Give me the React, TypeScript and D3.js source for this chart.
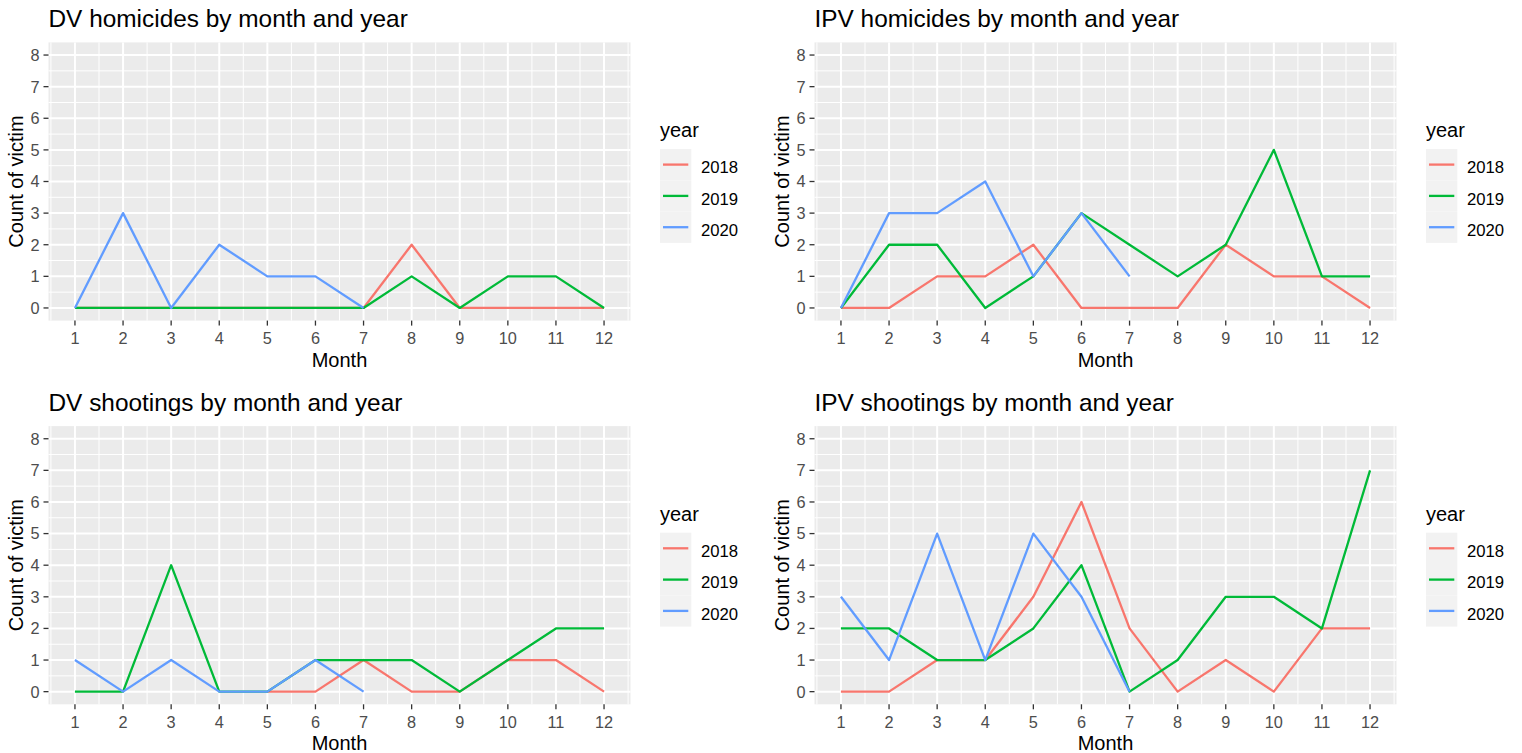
import React from "react";
import * as d3 from "d3";

// ---------- data ----------
const months = [1, 2, 3, 4, 5, 6, 7, 8, 9, 10, 11, 12];
const yTicks = [0, 1, 2, 3, 4, 5, 6, 7, 8];
const years = ["2018", "2019", "2020"];
const yearColors = ["#F8766D", "#00BA38", "#619CFF"];

type V = number | null;

const dvHom2018: V[] = [0, 0, 0, 0, 0, 0, 0, 2, 0, 0, 0, 0];
const dvHom2019: V[] = [0, 0, 0, 0, 0, 0, 0, 1, 0, 1, 1, 0];
const dvHom2020: V[] = [0, 3, 0, 2, 1, 1, 0, null, null, null, null, null];

const ipvHom2018: V[] = [0, 0, 1, 1, 2, 0, 0, 0, 2, 1, 1, 0];
const ipvHom2019: V[] = [0, 2, 2, 0, 1, 3, 2, 1, 2, 5, 1, 1];
const ipvHom2020: V[] = [0, 3, 3, 4, 1, 3, 1, null, null, null, null, null];

const dvShoot2018: V[] = [null, null, null, null, 0, 0, 1, 0, 0, 1, 1, 0];
const dvShoot2019: V[] = [0, 0, 4, 0, 0, 1, 1, 1, 0, 1, 2, 2];
const dvShoot2020: V[] = [1, 0, 1, 0, 0, 1, 0, null, null, null, null, null];

const ipvShoot2018: V[] = [0, 0, 1, 1, 3, 6, 2, 0, 1, 0, 2, 2];
const ipvShoot2019: V[] = [2, 2, 1, 1, 2, 4, 0, 1, 3, 3, 2, 7];
const ipvShoot2020: V[] = [3, 1, 5, 1, 5, 3, 0, null, null, null, null, null];

const titles = [
  "DV homicides by month and year",
  "IPV homicides by month and year",
  "DV shootings by month and year",
  "IPV shootings by month and year",
];
const panelSeries: V[][][] = [
  [dvHom2018, dvHom2019, dvHom2020],
  [ipvHom2018, ipvHom2019, ipvHom2020],
  [dvShoot2018, dvShoot2019, dvShoot2020],
  [ipvShoot2018, ipvShoot2019, ipvShoot2020],
];
const xLabel = "Month";
const yLabel = "Count of victim";
const legendTitle = "year";

// ---------- layout ----------
const FONT = "'Liberation Sans', Arial, Helvetica, sans-serif";
const COL_OFF = [0, 766];
const ROW_OFF = [0, 383.7];
const P_LEFT = 48.5;
const P_RIGHT = 630.5;
const P_TOP = 42.4;
const P_BOTTOM = 320.6;

function Panel({ idx }: { idx: number }) {
  const ox = COL_OFF[idx % 2];
  const oy = ROW_OFF[Math.floor(idx / 2)];
  const x = d3.scaleLinear().domain([0.45, 12.55]).range([P_LEFT + ox, P_RIGHT + ox]);
  const y = d3.scaleLinear().domain([-0.4, 8.4]).range([P_BOTTOM + oy, P_TOP + oy]);
  const xMinor = d3.range(0.5, 13, 1).filter((v) => v > 0.45 && v < 12.55);
  const yMinor = d3.range(0.5, 8, 1);
  const line = d3
    .line<{ m: number; v: V }>()
    .defined((d) => d.v != null)
    .x((d) => x(d.m))
    .y((d) => y(d.v as number));
  const [x0, x1] = x.range();
  const [y0, y1] = y.range();
  const cy = (y0 + y1) / 2;
  const lx = 660 + ox;
  return (
    <g>
      <text x={P_LEFT + ox} y={27 + oy} fontSize={24.4} fill="#000" fontFamily={FONT}>
        {titles[idx]}
      </text>
      <rect x={x0} y={y1} width={x1 - x0} height={y0 - y1} fill="#EBEBEB" />
      {yMinor.map((v) => (
        <line key={"ym" + v} x1={x0} x2={x1} y1={y(v)} y2={y(v)} stroke="#fff" strokeWidth={1} />
      ))}
      {xMinor.map((v) => (
        <line key={"xm" + v} x1={x(v)} x2={x(v)} y1={y0} y2={y1} stroke="#fff" strokeWidth={1} />
      ))}
      {yTicks.map((v) => (
        <line key={"yM" + v} x1={x0} x2={x1} y1={y(v)} y2={y(v)} stroke="#fff" strokeWidth={2} />
      ))}
      {months.map((v) => (
        <line key={"xM" + v} x1={x(v)} x2={x(v)} y1={y0} y2={y1} stroke="#fff" strokeWidth={2} />
      ))}
      {panelSeries[idx].map((s, i) => (
        <path
          key={"s" + i}
          d={line(months.map((m, j) => ({ m, v: s[j] }))) || ""}
          fill="none"
          stroke={yearColors[i]}
          strokeWidth={2.3}
          strokeLinejoin="round"
        />
      ))}
      {yTicks.map((v) => (
        <g key={"yt" + v}>
          <line x1={x0 - 5} x2={x0} y1={y(v)} y2={y(v)} stroke="#333" strokeWidth={1.3} />
          <text x={x0 - 9} y={y(v) + 5.9} fontSize={16.3} fill="#4D4D4D" textAnchor="end" fontFamily={FONT}>
            {v}
          </text>
        </g>
      ))}
      {months.map((v) => (
        <g key={"xt" + v}>
          <line x1={x(v)} x2={x(v)} y1={y0} y2={y0 + 5} stroke="#333" strokeWidth={1.3} />
          <text x={x(v)} y={y0 + 23.5} fontSize={16.3} fill="#4D4D4D" textAnchor="middle" fontFamily={FONT}>
            {v}
          </text>
        </g>
      ))}
      <text x={(x0 + x1) / 2} y={y0 + 46} fontSize={20} textAnchor="middle" fill="#000" fontFamily={FONT}>
        {xLabel}
      </text>
      <text
        transform={`translate(${23 + ox},${cy}) rotate(-90)`}
        fontSize={20}
        textAnchor="middle"
        fill="#000"
        fontFamily={FONT}
      >
        {yLabel}
      </text>
      <text x={lx} y={137 + oy} fontSize={20} fill="#000" fontFamily={FONT}>
        {legendTitle}
      </text>
      {years.map((yr, i) => {
        const ky = 149 + oy + i * 31.3;
        return (
          <g key={yr}>
            <rect x={lx} y={ky} width={31.3} height={31.3} fill="#F2F2F2" />
            <line x1={lx + 3} x2={lx + 28.3} y1={ky + 15.6} y2={ky + 15.6} stroke={yearColors[i]} strokeWidth={2.3} />
            <text x={lx + 41} y={ky + 24.3} fontSize={16.7} fill="#000" fontFamily={FONT}>
              {yr}
            </text>
          </g>
        );
      })}
    </g>
  );
}

export default function App() {
  return (
    <svg
      width={1522}
      height={753}
      style={{ position: "absolute", left: 0, top: 0, background: "#fff" }}
    >
      <rect width={1522} height={753} fill="#fff" />
      {[0, 1, 2, 3].map((i) => (
        <Panel key={i} idx={i} />
      ))}
    </svg>
  );
}
